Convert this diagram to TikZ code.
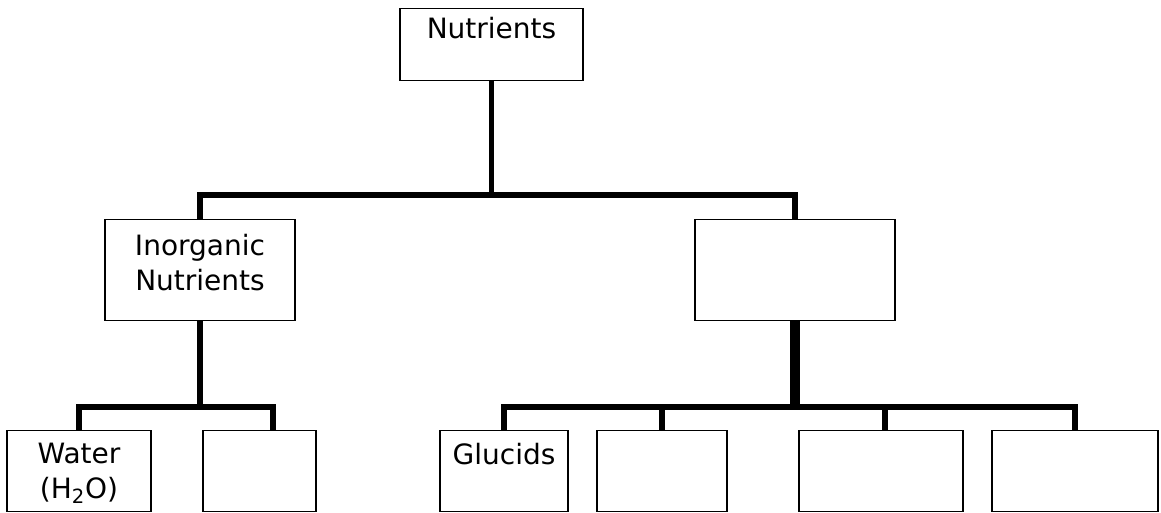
\documentclass[tikz,border=0pt]{standalone}
\usepackage{fontspec}
\setmainfont{DejaVu Sans}
\usepackage{tikz}
\usetikzlibrary{calc,positioning}
\def\textgap{26.25pt}
\tikzstyle{link} = [draw=black,line width=4.3pt]

\begin{document}
\begin{tikzpicture}[x=0.75pt,y=-0.75pt]
    \tikzstyle{box}=[rectangle,draw=black,line width=1.1pt,inner sep=0pt,anchor=north,align=center,font=\fontsize{21}{\textgap}\selectfont]
    \tikzstyle{top box}=[box,minimum height=54pt]
    \tikzstyle{mid box}=[box,minimum height=75.75pt]
    \tikzstyle{leaf box}=[box,minimum height=60.75pt]
    \tikzstyle{thick link}=[link,line width=7.5pt]
    \useasboundingbox (0,0) rectangle (1161,513);

    % Draw the top node
    \node[top box,minimum width=137.25pt,text height=15.5pt,text depth=25pt] (nutrients) at (491.5,8) {Nutrients};

    % Draw the middle row
    \node[mid box,minimum width=142.5pt,text depth=12.5pt] (inorganic) at (200,219) {Inorganic\\Nutrients};
    \node[mid box,minimum width=150pt] (organic) at (795,219) {};

    % Draw the leaf row
    \node[leaf box,minimum width=108pt,text depth=0pt] (water) at (79,430) {Water\\(H\textsubscript{2}O)};
    \node[leaf box,minimum width=84.75pt] (blank-a) at (259.5,430) {};
    \node[leaf box,minimum width=96pt,text height=15.5pt,text depth=25.75pt] (glucids) at (504,430) {Glucids};
    \node[leaf box,minimum width=97.5pt] (blank-b) at (662,430) {};
    \node[leaf box,minimum width=123pt] (blank-c) at (881,430) {};
    \node[leaf box,minimum width=124.5pt] (blank-d) at (1075,430) {};

    % Draw the links
    \coordinate (top-fork) at (491.5,195);
    \draw[link] (nutrients) -- (top-fork);
    \draw[link] (inorganic) |- (top-fork) -| (organic);

    \coordinate (inorg-fork) at (200,407);
    \draw[link] (inorganic) -- (inorg-fork);
    \draw[link] (water) |- (inorg-fork) -| ([xshift=10pt]blank-a.north);

    \coordinate (org-fork) at (795,407);
    \draw[thick link] (organic) -- (org-fork);
    \draw[link] (glucids) |- (org-fork) -| (blank-d);
    \draw[link] (blank-b) -- (blank-b |- org-fork);
    \draw[link] ([xshift=3pt]blank-c.north) -- ([xshift=3pt]blank-c.north |- org-fork);
\end{tikzpicture}
\end{document}
